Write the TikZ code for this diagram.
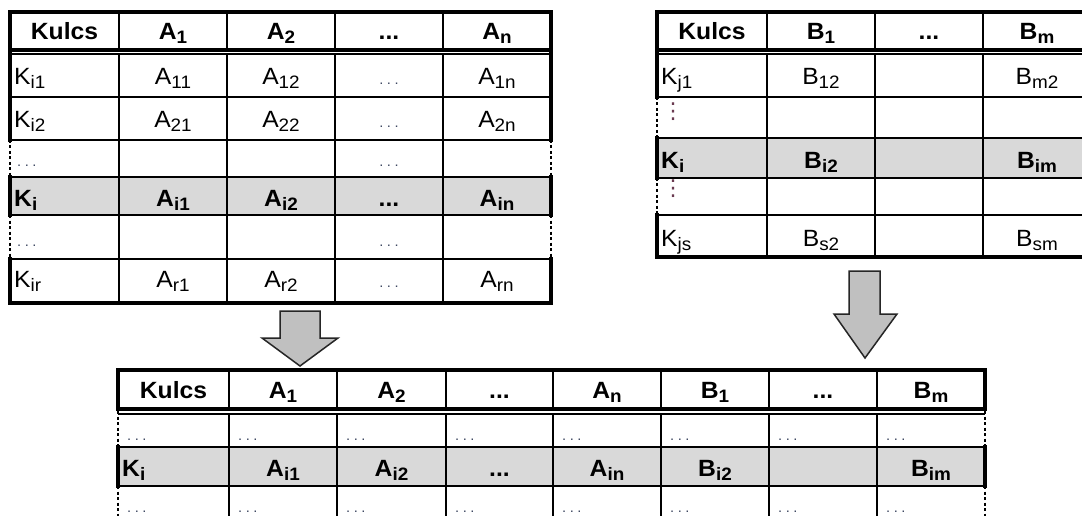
\documentclass[tikz,border=0pt]{standalone}
\usepackage{fontspec}
\setmainfont[FakeStretch=1.05]{Liberation Sans}
\newfontfamily\symfont{DejaVu Sans}
\definecolor{rowgray}{HTML}{D9D9D9}
\definecolor{arrowgray}{HTML}{C0C0C0}
\definecolor{dotgray}{HTML}{3C4660}
\definecolor{vdotc}{HTML}{6A3A50}
% lowered index, as in A_{11}
\newcommand\lo[1]{\raisebox{-4pt}{\fontsize{18}{18}\selectfont #1}}
% small spaced ellipsis used in empty-looking cells
\newcommand\sdots{{\fontsize{14}{14}\selectfont\color{dotgray}.\kern3.5pt.\kern3.5pt.}}

\begin{document}
\begin{tikzpicture}[x=1pt,y=-1pt,
  gridline/.style={line width=1.6pt,black},
  edgeline/.style={line width=3.2pt,black,line cap=rect},
  dotedge/.style={line width=2.2pt,black,dash pattern=on 3pt off 2.5pt},
  blockarrow/.style={fill=arrowgray,draw=black!85,line width=1.5pt,line join=miter},
  txt/.style={font=\fontsize{23.5}{23.5}\selectfont,inner sep=0pt,anchor=base},
  hdr/.style={txt,font=\fontsize{23.5}{23.5}\selectfont\bfseries},
  key/.style={txt,anchor=base west},
  keyb/.style={hdr,anchor=base west},
  sdot/.style={inner sep=0pt,anchor=base west},
  cdot/.style={inner sep=0pt,anchor=base},
  vdot/.style={inner sep=0pt,font=\symfont\fontsize{22}{22}\selectfont,text=vdotc}]

\useasboundingbox (0,0) rectangle (1082,516);
\fill[white] (0,0) rectangle (1082,516);

% ---------------- table A ----------------
\fill[rowgray] (10,177) rectangle (551,215);
\foreach \x in {119,227,335,443} {
  \draw[gridline] (\x,12) -- (\x,50);
  \draw[gridline] (\x,54) -- (\x,303);
}
\foreach \y in {54,97,140,177,215,259} \draw[gridline] (10,\y) -- (551,\y);
\draw[edgeline] (10,12) rectangle (551,50);
\foreach \x in {10,551} {
  \draw[edgeline] (\x,50) -- (\x,140);
  \draw[dotedge] (\x,140) -- (\x,177);
  \draw[edgeline] (\x,177) -- (\x,215);
  \draw[dotedge] (\x,215) -- (\x,259);
  \draw[edgeline] (\x,259) -- (\x,303);
}
\draw[edgeline] (10,303) -- (551,303);

\node[hdr] (a-h0) at (64.5,40) {Kulcs};
\node[hdr] (a-h1) at (173,40) {A\lo{1}};
\node[hdr] (a-h2) at (281,40) {A\lo{2}};
\node[hdr] (a-h3) at (389,40) {...};
\node[hdr] (a-h4) at (497,40) {A\lo{n}};

\node[key] (a-k1) at (14,85) {K\lo{i1}};
\node[txt] (a-11) at (173,85) {A\lo{11}};
\node[txt] (a-12) at (281,85) {A\lo{12}};
\node[cdot] (a-1d) at (389,85) {\sdots};
\node[txt] (a-1n) at (497,85) {A\lo{1n}};

\node[key] (a-k2) at (14,128) {K\lo{i2}};
\node[txt] (a-21) at (173,128) {A\lo{21}};
\node[txt] (a-22) at (281,128) {A\lo{22}};
\node[cdot] (a-2d) at (389,128) {\sdots};
\node[txt] (a-2n) at (497,128) {A\lo{2n}};

\node[sdot] (a-k3) at (17,167) {\sdots};
\node[cdot] (a-3d) at (389,167) {\sdots};

\node[keyb] (a-ki) at (14,207) {K\lo{i}};
\node[hdr] (a-i1) at (173,207) {A\lo{i1}};
\node[hdr] (a-i2) at (281,207) {A\lo{i2}};
\node[hdr] (a-id) at (389,207) {...};
\node[hdr] (a-in) at (497,207) {A\lo{in}};

\node[sdot] (a-k5) at (17,246) {\sdots};
\node[cdot] (a-5d) at (389,246) {\sdots};

\node[key] (a-kr) at (14,287) {K\lo{ir}};
\node[txt] (a-r1) at (173,287) {A\lo{r1}};
\node[txt] (a-r2) at (281,287) {A\lo{r2}};
\node[cdot] (a-rd) at (389,287) {\sdots};
\node[txt] (a-rn) at (497,287) {A\lo{rn}};

% ---------------- table B ----------------
\fill[rowgray] (657,138) rectangle (1090,178);
\foreach \x in {767,875,983} {
  \draw[gridline] (\x,12) -- (\x,50);
  \draw[gridline] (\x,54) -- (\x,257);
}
\foreach \y in {54,97,138,178,215} \draw[gridline] (657,\y) -- (1090,\y);
\draw[edgeline] (1090,12) -- (657,12) -- (657,50) -- (1090,50);
\draw[edgeline] (657,50) -- (657,97);
\draw[dotedge] (657,97) -- (657,138);
\draw[edgeline] (657,138) -- (657,178);
\draw[dotedge] (657,178) -- (657,215);
\draw[edgeline] (657,215) -- (657,257) -- (1090,257);

\node[hdr] (b-h0) at (712,40) {Kulcs};
\node[hdr] (b-h1) at (821,40) {B\lo{1}};
\node[hdr] (b-h2) at (929,40) {...};
\node[hdr] (b-h3) at (1037,40) {B\lo{m}};

\node[key] (b-k1) at (661,85) {K\lo{j1}};
\node[txt] (b-12) at (821,85) {B\lo{12}};
\node[txt] (b-m2) at (1037,85) {B\lo{m2}};

\node[vdot] (b-v1) at (673,112) {⋮};

\node[keyb] (b-ki) at (661,168) {K\lo{i}};
\node[hdr] (b-i2) at (821,168) {B\lo{i2}};
\node[hdr] (b-im) at (1037,168) {B\lo{im}};

\node[vdot] (b-v2) at (673,189) {⋮};

\node[key] (b-ks) at (661,246) {K\lo{js}};
\node[txt] (b-s2) at (821,246) {B\lo{s2}};
\node[txt] (b-sm) at (1037,246) {B\lo{sm}};

% ---------------- arrows ----------------
\draw[blockarrow] (280,311) -- (320,311) -- (320,338) -- (338,338) -- (300,366)
  -- (262,338) -- (280,338) -- cycle;
\draw[blockarrow] (849,271) -- (880,271) -- (880,314) -- (897,314) -- (865,358)
  -- (834,314) -- (849,314) -- cycle;

% ---------------- joined table ----------------
\fill[rowgray] (118,447) rectangle (985,486);
\foreach \x in {229,337,446,553,661,769,877} {
  \draw[gridline] (\x,370) -- (\x,409);
  \draw[gridline] (\x,414) -- (\x,520);
}
\foreach \y in {414,447,486} \draw[gridline] (118,\y) -- (985,\y);
\draw[edgeline] (118,370) rectangle (985,409);
\foreach \x in {118,985} {
  \draw[dotedge] (\x,411) -- (\x,447);
  \draw[edgeline] (\x,447) -- (\x,486);
  \draw[dotedge] (\x,486) -- (\x,520);
}

\node[hdr] (c-h0) at (173.5,398) {Kulcs};
\node[hdr] (c-h1) at (283,398) {A\lo{1}};
\node[hdr] (c-h2) at (391.5,398) {A\lo{2}};
\node[hdr] (c-h3) at (499.5,398) {...};
\node[hdr] (c-h4) at (607,398) {A\lo{n}};
\node[hdr] (c-h5) at (715,398) {B\lo{1}};
\node[hdr] (c-h6) at (823,398) {...};
\node[hdr] (c-h7) at (931,398) {B\lo{m}};

\foreach \x [count=\i] in {127,238,346,455,562,670,778,886} {
  \node[sdot] (c-u\i) at (\x,440) {\sdots};
  \node[sdot] (c-l\i) at (\x,512) {\sdots};
}

\node[keyb] (c-ki) at (122,476) {K\lo{i}};
\node[hdr] (c-i1) at (283,476) {A\lo{i1}};
\node[hdr] (c-i2) at (391.5,476) {A\lo{i2}};
\node[hdr] (c-id) at (499.5,476) {...};
\node[hdr] (c-in) at (607,476) {A\lo{in}};
\node[hdr] (c-bi) at (715,476) {B\lo{i2}};
\node[hdr] (c-bm) at (931,476) {B\lo{im}};
\end{tikzpicture}
\end{document}
